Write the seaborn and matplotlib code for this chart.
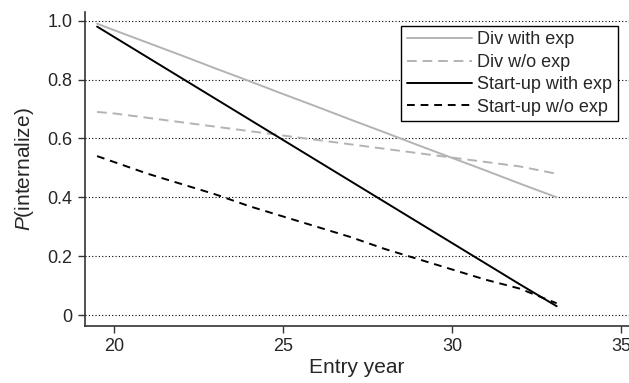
import pandas as pd
import matplotlib
matplotlib.use("Agg")
import matplotlib.pyplot as plt
import seaborn as sns

# values
years = [19.5, 20, 21, 22, 23, 24, 25, 26, 27, 28, 29, 30, 31, 32, 33.1]
div_with = [0.99, 0.968, 0.925, 0.882, 0.838, 0.795, 0.751, 0.708, 0.664, 0.621, 0.577, 0.534, 0.491, 0.447, 0.40]
div_without = [0.69, 0.685, 0.67, 0.655, 0.64, 0.625, 0.61, 0.595, 0.58, 0.565, 0.55, 0.535, 0.52, 0.505, 0.48]
start_with = [0.98, 0.945, 0.875, 0.805, 0.735, 0.665, 0.595, 0.525, 0.455, 0.385, 0.315, 0.245, 0.175, 0.105, 0.03]
start_without = [0.54, 0.52, 0.48, 0.445, 0.41, 0.37, 0.335, 0.30, 0.265, 0.225, 0.19, 0.155, 0.12, 0.09, 0.04]

series = {
    "Div with exp": div_with,
    "Div w/o exp": div_without,
    "Start-up with exp": start_with,
    "Start-up w/o exp": start_without,
}
styles = {
    "Div with exp": ("#b3b3b3", "-"),
    "Div w/o exp": ("#b3b3b3", (0, (5, 3))),
    "Start-up with exp": ("black", "-"),
    "Start-up w/o exp": ("black", (0, (4, 3))),
}

sns.set_style("ticks")
plt.rcParams["font.family"] = ["Liberation Sans", "DejaVu Sans"]
plt.rcParams["mathtext.fontset"] = "custom"
plt.rcParams["mathtext.it"] = "Liberation Sans:italic"
plt.rcParams["mathtext.rm"] = "Liberation Sans"

fig = plt.figure(figsize=(6.29, 3.83), dpi=100)
ax = fig.add_axes([0.135, 0.149, 0.865, 0.82])

for yv in [0, 0.2, 0.4, 0.6, 0.8, 1.0]:
    ax.axhline(yv, color="black", lw=0.8, ls=(0, (1, 2)), zorder=0)

for name, vals in series.items():
    df = pd.DataFrame({"year": years, "p": vals})
    color, ls = styles[name]
    sns.lineplot(data=df, x="year", y="p", ax=ax, color=color, linestyle=ls,
                 linewidth=1.4, label=name)

ax.set_xlim(19.14, 35.24)
ax.set_ylim(-0.037, 1.03)
ax.set_xticks([20, 25, 30, 35])
ax.set_yticks([0, 0.2, 0.4, 0.6, 0.8, 1.0])
ax.set_yticklabels(["0", "0.2", "0.4", "0.6", "0.8", "1.0"])
ax.tick_params(labelsize=13, length=5, width=1, color="#333333", pad=4)
ax.set_xlabel("Entry year", fontsize=15, labelpad=2)
ax.set_ylabel("$P$(internalize)", fontsize=15, labelpad=8)
for s in ["top", "right"]:
    ax.spines[s].set_visible(False)
for s in ["left", "bottom"]:
    ax.spines[s].set_linewidth(1.2)
    ax.spines[s].set_color("#333333")

leg = ax.legend(loc="upper right", bbox_to_anchor=(0.979, 0.955), fontsize=13,
                frameon=True, fancybox=False, handlelength=3.6, borderpad=0.3,
                labelspacing=0.3, handletextpad=0.3, borderaxespad=0)
leg.get_frame().set_edgecolor("black")
leg.get_frame().set_linewidth(1.0)
leg.get_frame().set_alpha(1)

fig.savefig("out.png", dpi=100)
